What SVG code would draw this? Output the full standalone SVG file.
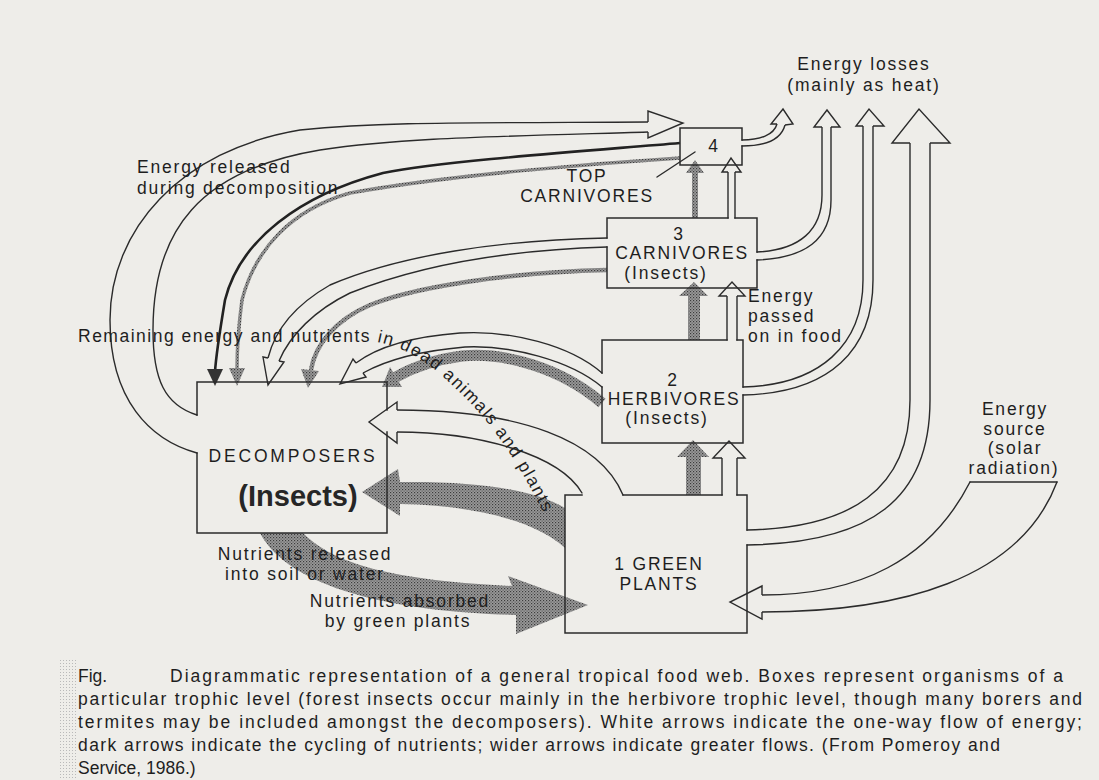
<svg xmlns="http://www.w3.org/2000/svg" width="1099" height="780" viewBox="0 0 1099 780">
<defs>
<style>
.ln{fill:none;stroke:#2b2b2b;stroke-width:1.4;stroke-linejoin:round;stroke-linecap:round}
.hd{fill:#eeede9;stroke:#2b2b2b;stroke-width:1.4;stroke-linejoin:miter}
.bx{fill:none;stroke:#2b2b2b;stroke-width:1.5;stroke-linecap:square}
.dk{fill:url(#st);stroke:none}
.dks{fill:none;stroke:url(#st);stroke-linecap:butt}
.t{font-family:"Liberation Sans",Arial,sans-serif;font-size:17.5px;fill:#1e1e1e;letter-spacing:1.8px}
.c{text-anchor:middle}
.cap{font-family:"Liberation Sans",Arial,sans-serif;font-size:17.5px;fill:#1e1e1e}
</style>
<pattern id="st" width="3" height="3" patternUnits="userSpaceOnUse">
<rect width="3" height="3" fill="#9b9b9b"/>
<rect width="1.2" height="1.2" fill="#3c3c3c"/>
<rect x="1.5" y="1.5" width="1.2" height="1.2" fill="#5a5a5a"/>
</pattern>
<pattern id="lt" width="3" height="3" patternUnits="userSpaceOnUse">
<rect width="1" height="1" fill="#b9b9b9"/>
</pattern>
<path id="rem" d="M377,342 C408,348 432,365 455,388 C490,420 522,462 566,560"/>
</defs>
<rect width="1099" height="780" fill="#eeede9"/>
<rect x="58" y="658" width="18" height="122" fill="url(#lt)"/>

<g id="connectors">
<!-- energy released during decomposition -->
<path class="ln" d="M197,453 C150,440 110,400 110,320 C110,230 180,150 300,130 C380,122 450,123 648,122"/>
<path class="ln" d="M197,415 C165,405 153,380 153,330 C153,230 200,170 320,150 C400,138 480,137 648,132"/>
<path class="hd" d="M648,122 L648,111 L683,123 L648,138 L648,132"/>

<!-- top carnivores to decomposers -->
<path d="M680,143 C600,150 450,160 383,173 C300,195 240,240 225,300 C220,330 216,355 215,372" fill="none" stroke="#222" stroke-width="2.6"/>
<path d="M207,369 L223,369 L215,386 Z" fill="#333"/>
<path class="dks" stroke-width="3.5" d="M680,158 C600,163 450,175 350,193 C290,210 255,250 242,300 C238,330 237,352 237,370"/>
<path class="dk" d="M229,368 L245,368 L237,386 Z"/>

<!-- carnivores to decomposers -->
<path class="ln" d="M607,238 C500,240 400,255 330,285 C295,305 275,330 268,358"/>
<path class="ln" d="M607,247 C510,250 420,265 350,293 C315,310 290,335 279,361"/>
<path class="hd" d="M268,358 L263,357 L268,385 L284,362 L279,361"/>
<path class="dks" stroke-width="4.5" d="M607,270 C520,272 420,285 370,305 C335,320 315,345 311,370"/>
<path class="dk" d="M301,369 L319,371 L308,388 Z"/>

<!-- herbivores to decomposers -->
<path class="ln" d="M602,373 C570,345 510,330 460,333 C420,336 380,345 356,363"/>
<path class="ln" d="M602,387 C570,360 510,345 465,347 C430,350 390,358 363,373"/>
<path class="hd" d="M356,363 L353,359 L340,384 L366,377 L363,373"/>
<path class="dks" stroke-width="11" d="M602,403 C560,367 503,352 462,356 C432,360 410,369 396,377"/>
<path class="dk" d="M390,367 L382,387 L402,387 Z"/>

<!-- green plants to decomposers -->
<path class="ln" d="M623,495 C600,440 520,410 397,410"/>
<path class="ln" d="M582,493 C560,455 480,432 397,432"/>
<path class="hd" d="M397,410 L397,402 L369,422 L397,443 L397,432"/>
<path class="dk" d="M565,508 C535,490 480,481 400,482 L398,469 L362,492 L400,516 L400,504 C470,505 535,520 565,548 Z"/>

<!-- decomposers to green plants -->
<path class="dk" d="M303,533 C330,560 380,580 512,586 L508,576 L588,605 L516,634 L516,615 C400,612 290,590 260,533 Z"/>

<!-- vertical flows -->
<rect class="dk" x="686" y="455" width="15" height="40"/>
<path class="dk" d="M677,457 L693,440 L709,457 Z"/>
<path class="ln" d="M722,458 V495 M737,458 V495"/>
<path class="hd" d="M722,458 L713,458 L729,441 L745,458 L737,458"/>

<rect class="dk" x="688" y="295" width="12" height="45"/>
<path class="dk" d="M679,296 L694,282 L708,296 Z"/>
<path class="ln" d="M727,296 V340 M737,296 V340"/>
<path class="hd" d="M727,296 L719,296 L732,282 L745,296 L737,296"/>

<rect class="dk" x="692" y="172" width="6" height="46"/>
<path class="dk" d="M686,173 L695,160 L704,173 Z"/>
<path class="ln" d="M728,172 V218 M735,172 V218"/>
<path class="hd" d="M728,172 L722,172 L731,158 L741,172 L735,172"/>

<!-- heat losses -->
<path class="ln" d="M742,140 C760,140 774,135 777,124"/>
<path class="ln" d="M742,146 C765,146 781,140 785,125"/>
<path class="hd" d="M777,124 L771,124 L783,109 L793,124 L785,125"/>

<path class="ln" d="M757,252 C800,250 822,230 822,195 V127"/>
<path class="ln" d="M757,260 C805,258 831,240 831,200 V127"/>
<path class="hd" d="M822,127 L814,127 L827,110 L840,127 L831,127"/>

<path class="ln" d="M743,387 C820,385 863,345 863,280 V126"/>
<path class="ln" d="M743,395 C830,393 873,350 873,280 V126"/>
<path class="hd" d="M863,126 L856,126 L869,109 L884,126 L873,126"/>

<path class="ln" d="M747,530 C850,528 910,490 910,400 V143"/>
<path class="ln" d="M747,545 C870,543 930,500 930,400 V143"/>
<path class="hd" d="M910,143 L892,143 L919,109 L950,143 L930,143"/>

<!-- solar radiation -->
<path class="ln" d="M970,482 C930,560 860,595 762,595"/>
<path class="ln" d="M1057,482 C1020,580 900,612 762,612"/>
<path class="ln" d="M970,482 L1057,482"/>
<path class="hd" d="M762,595 L762,586 L730,602 L762,619 L762,612"/>

<!-- leader line -->
<path class="ln" d="M657,177 L695,152"/>
</g>

<g id="top-carnivores">
<path class="bx" d="M742,146 V165 H680 V128 H742 V140"/>
<text class="t c" x="714" y="152">4</text>
</g>
<g id="carnivores">
<path class="bx" d="M735,218 H757 V252 M757,260 V288 H607 V247 M607,238 V218 H728"/>
<text class="t c" x="679" y="240">3</text>
<text class="t c" x="682" y="259">CARNIVORES</text>
<text class="t c" x="666" y="279">(Insects)</text>
</g>
<g id="herbivores">
<path class="bx" d="M737,340 H743 V387 M743,395 V443 H602 V387 M602,373 V340 H727"/>
<text class="t c" x="673" y="386">2</text>
<text class="t c" x="674" y="405">HERBIVORES</text>
<text class="t c" x="667" y="424">(Insects)</text>
</g>
<g id="green-plants">
<path class="bx" d="M737,495 H747 V530 M747,545 V633 H565 V495 H582 M623,495 H722"/>
<text class="t c" x="659" y="570">1 GREEN</text>
<text class="t c" x="659" y="590">PLANTS</text>
</g>
<g id="decomposers">
<path class="bx" d="M197,415 V382 H387 V410 M387,432 V533 H197 V453"/>
<text class="t c" x="293" y="462" style="letter-spacing:2.8px">DECOMPOSERS</text>
<text class="c" x="298" y="506" style="font-family:'Liberation Sans',Arial,sans-serif;font-size:29px;font-weight:bold;fill:#262626">(Insects)</text>
</g>

<g id="labels">
<text class="t" x="137" y="173">Energy released</text>
<text class="t" x="137" y="194">during decomposition</text>
<text class="t c" x="587" y="182">TOP</text>
<text class="t c" x="587" y="202">CARNIVORES</text>
<text class="t c" x="864" y="70">Energy losses</text>
<text class="t c" x="864" y="91">(mainly as heat)</text>
<text class="t" x="748" y="302">Energy</text>
<text class="t" x="748" y="322">passed</text>
<text class="t" x="748" y="342">on in food</text>
<text class="t c" x="1015" y="415">Energy</text>
<text class="t c" x="1015" y="435">source</text>
<text class="t c" x="1015" y="454">(solar</text>
<text class="t c" x="1014" y="474">radiation)</text>
<text class="t" x="78" y="342" style="letter-spacing:1.5px">Remaining energy and nutrients</text>
<text class="t" style="letter-spacing:1.5px"><textPath href="#rem">in dead animals and plants</textPath></text>
<text class="t c" x="305" y="560">Nutrients released</text>
<text class="t c" x="305" y="580">into soil or water</text>
<text class="t c" x="400" y="607">Nutrients absorbed</text>
<text class="t c" x="398" y="627">by green plants</text>
</g>

<g id="caption">
<text class="cap" x="78" y="682">Fig.</text>
<text class="cap" x="170" y="682" textLength="893">Diagrammatic representation of a general tropical food web. Boxes represent organisms of a</text>
<text class="cap" x="78" y="705" textLength="1004">particular trophic level (forest insects occur mainly in the herbivore trophic level, though many borers and</text>
<text class="cap" x="78" y="728" textLength="1004">termites may be included amongst the decomposers). White arrows indicate the one-way flow of energy;</text>
<text class="cap" x="78" y="751" textLength="922">dark arrows indicate the cycling of nutrients; wider arrows indicate greater flows. (From Pomeroy and</text>
<text class="cap" x="78" y="774">Service, 1986.)</text>
</g>
</svg>
